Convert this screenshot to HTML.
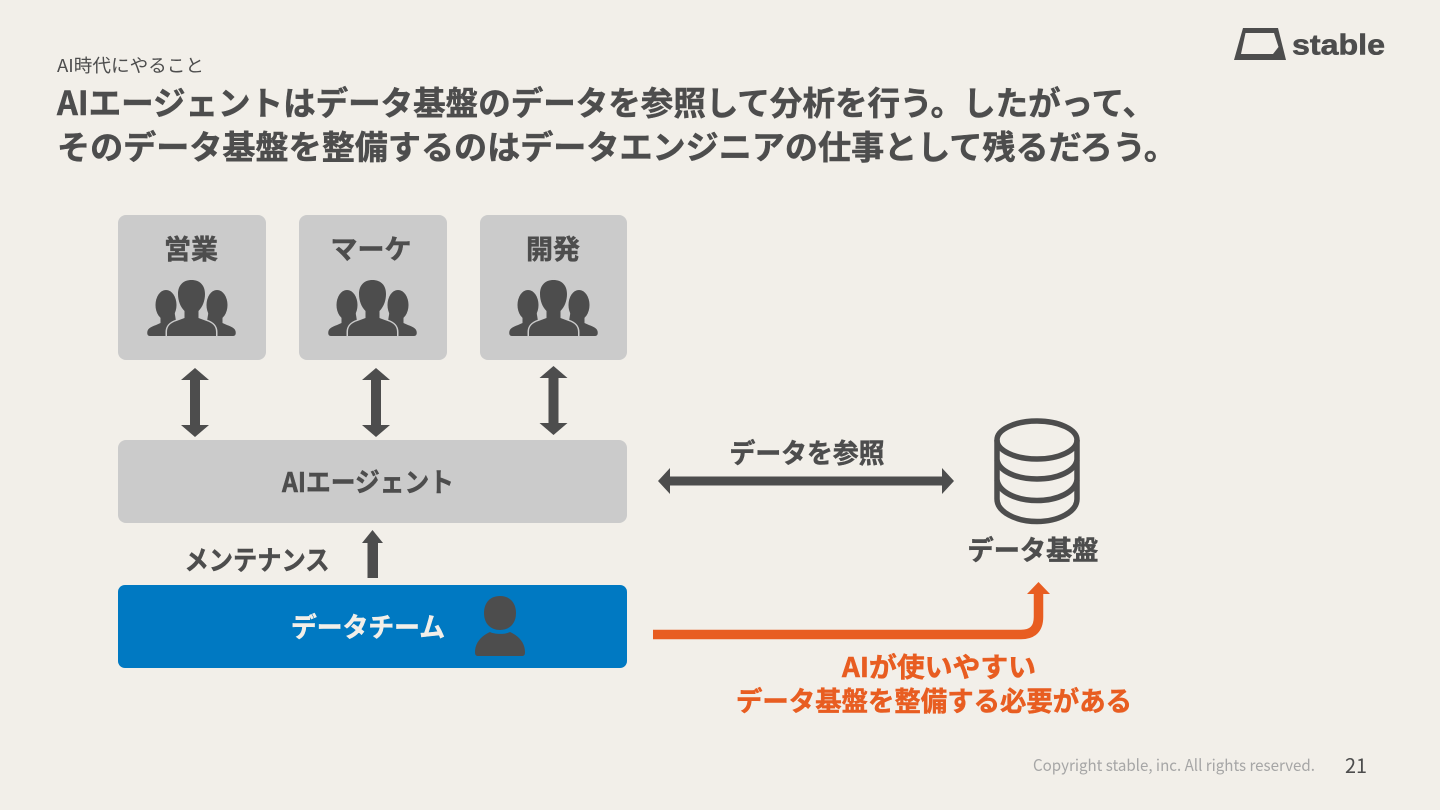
<!DOCTYPE html>
<html lang="ja">
<head>
<meta charset="utf-8">
<title>AI時代にやること</title>
<style>
html,body{margin:0;padding:0;background:#f2efe9;width:1440px;height:810px;overflow:hidden}
svg{display:block}
text{font-family:"Noto Sans CJK JP","Liberation Sans",sans-serif}
.b{font-weight:700;stroke-width:.5}
.d{fill:#4d4d4d;stroke:#4d4d4d}
</style>
</head>
<body>
<svg width="1440" height="810" viewBox="0 0 1440 810" xmlns="http://www.w3.org/2000/svg">
<defs>
<g id="side" fill="#4d4d4d">
  <ellipse cx="-25.500" cy="25" rx="10.500" ry="15"/>
  <path d="M-31 32 H-17 L-15 44 L-8 47 L-8 56 H-41.500 C-44.500 56 -44.500 53 -44 51 C-43 47 -37 46 -31 43 Z"/>
</g>
<g id="people">
  <use href="#side"/>
  <use href="#side" transform="scale(-1 1)"/>
  <path d="M-24.500 56 L-24.500 52 C-24.500 46 -21 43 -15 41 L-7 38 L-7 31 C-11 27 -13.500 21 -13.500 14 C-13.500 5 -8 0 0 0 C8 0 13.500 5 13.500 14 C13.500 21 11 27 7 31 L7 38 L15 41 C21 43 24.500 46 24.500 52 L24.500 56 Z" fill="#4d4d4d" stroke="#cbcbcb" stroke-width="3" paint-order="stroke"/>
</g>
<path id="dbl" fill="#4d4d4d" d="M0 0 L14 12 L5 12 L5 57 L14 57 L0 69 L-14 57 L-5 57 L-5 12 L-14 12 Z"/>
</defs>

<rect width="1440" height="810" fill="#f2efe9"/>

<text x="57" y="72" font-size="18" fill="#4d4d4d" textLength="147" lengthAdjust="spacingAndGlyphs">AI時代にやること</text>
<text class="b d" x="57" y="115" font-size="33" textLength="1098" lengthAdjust="spacingAndGlyphs">AIエージェントはデータ基盤のデータを参照して分析を行う。したがって、</text>
<text class="b d" x="57" y="159" font-size="33" textLength="1120" lengthAdjust="spacingAndGlyphs">そのデータ基盤を整備するのはデータエンジニアの仕事として残るだろう。</text>

<!-- logo -->
<path d="M1243 28 H1278 L1286 60 H1234 Z M1245.500 33 L1241 54 H1273 L1278.500 47 L1274 33 Z" fill="#4d4d4d" fill-rule="evenodd"/>
<text x="1292" y="54.500" font-size="29" font-weight="700" fill="#4d4d4d" stroke="#4d4d4d" stroke-width=".6" textLength="93" lengthAdjust="spacingAndGlyphs" style="font-family:'Liberation Sans',sans-serif">stable</text>

<!-- top boxes -->
<rect x="118" y="215" width="148" height="145" rx="8" fill="#cbcbcb"/>
<rect x="299" y="215" width="148" height="145" rx="8" fill="#cbcbcb"/>
<rect x="480" y="215" width="147" height="145" rx="8" fill="#cbcbcb"/>
<text class="b d" x="191" y="259" font-size="27" text-anchor="middle">営業</text>
<text class="b d" x="371" y="259" font-size="27" text-anchor="middle">マーケ</text>
<text class="b d" x="553" y="259" font-size="27" text-anchor="middle">開発</text>
<use href="#people" x="191.500" y="280"/>
<use href="#people" x="372.500" y="280"/>
<use href="#people" x="553.500" y="280"/>

<!-- vertical arrows -->
<use href="#dbl" x="195" y="368"/>
<use href="#dbl" x="376" y="368"/>
<use href="#dbl" x="553.500" y="366"/>

<!-- AI agent -->
<rect x="118" y="440" width="509" height="83" rx="8" fill="#cbcbcb"/>
<text class="b d" x="368" y="492" font-size="27" text-anchor="middle" textLength="172" lengthAdjust="spacingAndGlyphs">AIエージェント</text>

<!-- horizontal arrow -->
<path d="M658 481 L670 468 L670 476.500 L942 476.500 L942 468 L954 481 L942 494 L942 485.500 L670 485.500 L670 494 Z" fill="#4d4d4d"/>
<text class="b d" x="807" y="463" font-size="27" text-anchor="middle" textLength="155" lengthAdjust="spacingAndGlyphs">データを参照</text>

<!-- database -->
<g fill="none" stroke="#4d4d4d" stroke-width="5.500">
  <ellipse cx="1037" cy="440" rx="40" ry="19"/>
  <path d="M997 440 V499 C997 512 1016 521.500 1037 521.500 C1058 521.500 1077 512 1077 499 V440"/>
  <path d="M997 460 C999 471 1016 479 1037 479 C1058 479 1075 471 1077 460"/>
  <path d="M997 480 C999 492 1016 500.500 1037 500.500 C1058 500.500 1075 492 1077 480"/>
</g>
<text class="b d" x="1033" y="560" font-size="27" text-anchor="middle" textLength="131" lengthAdjust="spacingAndGlyphs">データ基盤</text>

<!-- maintenance -->
<text class="b d" x="257" y="570" font-size="27" text-anchor="middle" textLength="145" lengthAdjust="spacingAndGlyphs">メンテナンス</text>
<path d="M372.500 530 L383 543 L378 543 L378 578 L367.500 578 L367.500 543 L362 543 Z" fill="#4d4d4d"/>

<!-- data team -->
<rect x="118" y="585" width="509" height="83" rx="7" fill="#0079c2"/>
<text class="b" x="368" y="637" font-size="27" fill="#f2efe9" stroke="#f2efe9" text-anchor="middle" textLength="154" lengthAdjust="spacingAndGlyphs">データチーム</text>
<g fill="#4d4d4d">
  <path d="M500 596 C510 596 516 603 516 613 C516 624 509 630 500 630 C491 630 484 624 484 613 C484 603 490 596 500 596 Z"/>
  <path d="M475 652 C475 643 481 636 490 632 C495 634.500 505 634.500 510 632 C519 636 525 643 525 652 C525 655 524 656 522 656 H478 C476 656 475 655 475 652 Z"/>
</g>

<!-- orange arrow -->
<path d="M653 634.500 H1021 Q1038.500 634.500 1038.500 617 V590" fill="none" stroke="#e85d21" stroke-width="9.500"/>
<path d="M1038.500 582 L1050 594 L1027 594 Z" fill="#e85d21"/>
<text class="b" x="939" y="677" font-size="27" fill="#e85d21" stroke="#e85d21" text-anchor="middle" textLength="194" lengthAdjust="spacingAndGlyphs">AIが使いやすい</text>
<text class="b" x="934" y="711" font-size="27" fill="#e85d21" stroke="#e85d21" text-anchor="middle" textLength="396" lengthAdjust="spacingAndGlyphs">データ基盤を整備する必要がある</text>

<!-- footer -->
<text x="1033" y="771" font-size="16" fill="#a6a6a6" textLength="282" lengthAdjust="spacingAndGlyphs">Copyright stable, inc. All rights reserved.</text>
<text x="1345" y="773" font-size="20" fill="#4d4d4d" textLength="22" lengthAdjust="spacingAndGlyphs">21</text>
</svg>
</body>
</html>
